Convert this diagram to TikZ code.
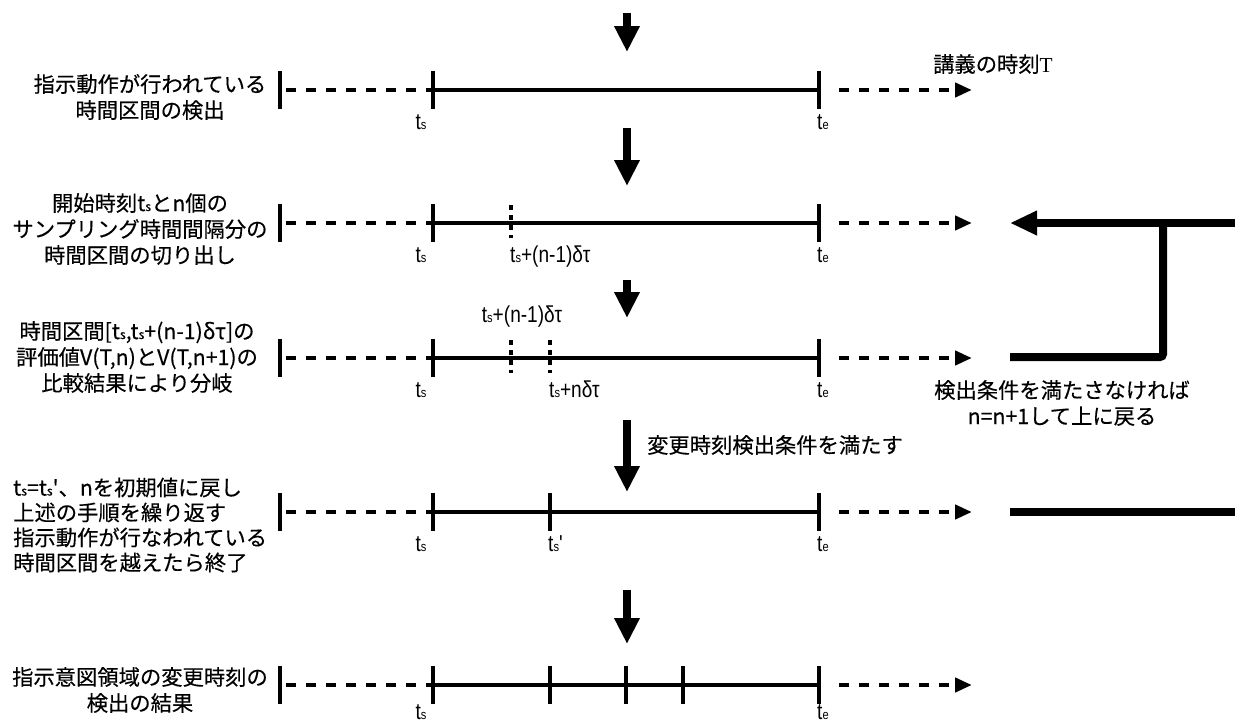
\documentclass[tikz,border=0pt]{standalone}
\usepackage{fontspec}
\setmainfont{Liberation Sans}
\newfontfamily\jp[FakeBold=0.3]{Noto Sans CJK JP}
\newfontfamily\rmserif{Liberation Serif}
\newfontfamily\narrowsf[FakeStretch=0.83]{Liberation Sans}
\usetikzlibrary{arrows.meta}

% time symbols with a small subscript letter
\newcommand\tS{t\scalebox{0.58}{s}}
\newcommand\tE{t\scalebox{0.58}{e}}

\tikzset{
  jptext/.style={font=\jp\fontsize{21.3}{26}\selectfont, inner sep=0pt},
  tlabel/.style={font=\narrowsf\fontsize{23}{23}\selectfont, inner sep=0pt},
  endbar/.style={line width=4.5pt},
  tickmark/.style={line width=3.3pt},
  dotmark/.style={line width=3.3pt, dash pattern=on 5pt off 5pt},
  spanline/.style={line width=3.5pt},
  dashseg/.style={line width=4.5pt, dash pattern=on 10pt off 10pt},
  timearrow/.style={dashseg, -{Triangle[length=17pt,width=14pt]}},
  flowarrow/.style={line width=8pt, -{Triangle[length=26pt,width=24pt]}},
  looparrow/.style={line width=8pt, -{Triangle[length=27pt,width=23pt]}},
  loopline/.style={line width=8pt},
}

% one time axis: end bar, dashed lead-in, start/end ticks, dashed arrow;
% #3 is the baseline of the tick labels
\newcommand\axisrow[3]{%
  \coordinate (#1l) at (280,#2);
  \coordinate (#1a) at (286,#2);
  \coordinate (#1s) at (433,#2);
  \coordinate (#1e) at (819,#2);
  \coordinate (#1f) at (839,#2);
  \coordinate (#1t) at (972,#2);
  \draw[endbar] ([yshift=19pt]#1l) -- ([yshift=-19pt]#1l);
  \draw[dashseg] (#1a) -- (#1s);
  \draw[spanline] (#1s) -- (#1e);
  \draw[tickmark] ([yshift=19pt]#1s) -- ([yshift=-19pt]#1s);
  \draw[tickmark] ([yshift=19pt]#1e) -- ([yshift=-19pt]#1e);
  \draw[timearrow] (#1f) -- (#1t);
  \node[tlabel, anchor=base] (#1sl) at (421,#3) {\tS};
  \node[tlabel, anchor=base west] (#1el) at (817,#3) {\tE};
}

\begin{document}
\begin{tikzpicture}[x=1pt,y=-1pt]
\useasboundingbox[fill=white] (0,0) rectangle (1235,723);

% ---- axes ----
\axisrow{r1}{90}{129}
\axisrow{r2}{223}{262}
\axisrow{r3}{358}{397}
\axisrow{r4}{512}{551}
\axisrow{r5}{685}{719}

% row 2: cut-out end
\coordinate (r2m) at (511,223);
\draw[dotmark] ([yshift=18pt]r2m) -- ([yshift=-15pt]r2m);
\node[tlabel, anchor=base west] (r2ml) at (510,262) {\tS+(n-1)δτ};

% row 3: two candidate ends
\coordinate (r3m) at (511,358);
\coordinate (r3n) at (550,358);
\draw[dotmark] ([yshift=18pt]r3m) -- ([yshift=-15pt]r3m);
\draw[dotmark] ([yshift=18pt]r3n) -- ([yshift=-15pt]r3n);
\node[tlabel, anchor=base] (r3ml) at (522,322) {\tS+(n-1)δτ};
\node[tlabel, anchor=base west] (r3nl) at (549,397) {\tS+nδτ};

% row 4: new start
\coordinate (r4m) at (550,512);
\draw[tickmark] ([yshift=19pt]r4m) -- ([yshift=-19pt]r4m);
\node[tlabel, anchor=base west] (r4ml) at (548,551) {\tS'};

% row 5: detected change times
\foreach \cx [count=\i] in {550,626,683}{
  \coordinate (r5m\i) at (\cx,685);
  \draw[tickmark] ([yshift=19pt]r5m\i) -- ([yshift=-19pt]r5m\i);
}

% ---- step descriptions ----
\node[jptext, align=center] (d1) at (150,97) {指示動作が行われている\\時間区間の検出};
\node[jptext, align=center] (d2) at (140,229) {開始時刻\tS{}とn個の\\サンプリング時間間隔分の\\時間区間の切り出し};
\node[jptext, align=center] (d3) at (137,357) {時間区間[\tS,\tS+(n-1)δτ]の\\評価値V(T,n)とV(T,n+1)の\\比較結果により分岐};
\node[jptext, align=left, anchor=west, font=\jp\fontsize{21.3}{25}\selectfont] (d4) at (13,525) {\tS=\tS'、nを初期値に戻し\\上述の手順を繰り返す\\指示動作が行なわれている\\時間区間を越えたら終了};
\node[jptext, align=center] (d5) at (140,690) {指示意図領域の変更時刻の\\検出の結果};

\node[jptext, anchor=west] (tt) at (933,64) {講義の時刻{\rmserif T}};
\node[jptext, anchor=west] (cond) at (647,445) {変更時刻検出条件を満たす};
\node[jptext, align=center] (back) at (1062,403) {検出条件を満たさなければ\\n=n+1して上に戻る};

% ---- flow between steps ----
\coordinate (f1a) at (627,13);  \coordinate (f1b) at (627,52);
\coordinate (f2a) at (627,128); \coordinate (f2b) at (627,186);
\coordinate (f3a) at (627,280); \coordinate (f3b) at (627,318);
\coordinate (f4a) at (627,420); \coordinate (f4b) at (627,492);
\coordinate (f5a) at (627,590); \coordinate (f5b) at (627,644);
\foreach \k in {1,...,5}{\draw[flowarrow] (f\k a) -- (f\k b);}

% ---- loop back to step 2 ----
\coordinate (lpin) at (1235,223);
\coordinate (lptip) at (1010,223);
\coordinate (lpj) at (1163,223);
\coordinate (lpc) at (1163,357);
\coordinate (lpst) at (1010,357);
\draw[looparrow] (lpin) -- (lptip);
\draw[loopline, rounded corners=3pt] (lpst) -- (lpc) -- ([yshift=4pt]lpj);

% ---- continuation of step 4 ----
\coordinate (cnt1) at (1010,512);
\coordinate (cnt2) at (1235,512);
\draw[loopline] (cnt1) -- (cnt2);
\end{tikzpicture}
\end{document}
